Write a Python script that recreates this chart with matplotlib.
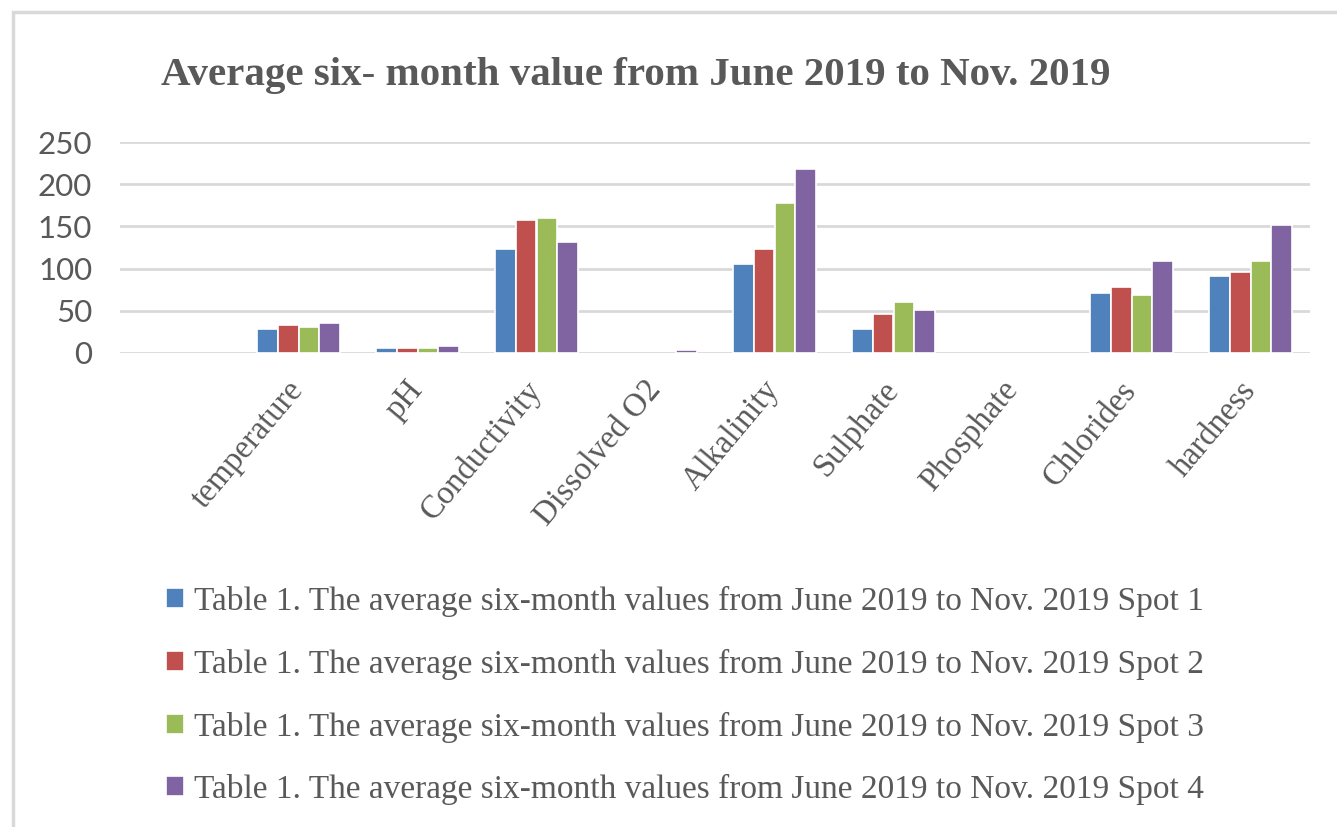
import matplotlib.pyplot as plt
import matplotlib.transforms as mtransforms
import numpy as np
from matplotlib.patches import Rectangle

# Datos (primera categoria vacia)
categories = ["", "temperature", "pH", "Conductivity", "Dissolved O2", "Alkalinity",
              "Sulphate", "Phosphate", "Chlorides", "hardness"]
spot1 = [0, 28, 5.5, 123.5, 0, 105, 28, 0, 71, 91.5]
spot2 = [0, 33, 5.5, 157, 0, 123.5, 46.5, 0, 78, 96]
spot3 = [0, 30.5, 5.5, 159.5, 0, 177.5, 60, 0, 69, 109.5]
spot4 = [0, 35, 8, 132, 3.5, 218, 50.5, 0, 109.5, 152]
series_names = ["Table 1. The average six-month values from June 2019 to Nov. 2019 Spot %d" % i
                for i in range(1, 5)]
colors = ["#4F81BD", "#C0504D", "#9BBB59", "#8064A2"]
yticks = [0, 50, 100, 150, 200, 250]

W, H = 1337, 827
fig = plt.figure(figsize=(W / 100, H / 100), dpi=100)

# marco gris del area del grafico
fig.patches.append(Rectangle((13 / W, -0.1), 1.2, 1 - 12 / H + 0.1, transform=fig.transFigure,
                             fill=False, edgecolor="#d9d9d9", linewidth=2.5))

ax = fig.add_axes([120 / W, 1 - 353 / H, (1310 - 120) / W, (353 - 142) / H])

x = np.arange(len(categories))
pitch = 0.175
handles = []
for i, vals in enumerate([spot1, spot2, spot3, spot4]):
    h = np.array(vals, dtype=float)
    h[h == 0] = np.nan  # no dibujar barras vacias
    b = ax.bar(x + (i - 1.5) * pitch, h, width=pitch, color=colors[i],
               edgecolor="white", linewidth=1.2, zorder=3)
    handles.append(b)

ax.set_xlim(-0.5, len(categories) - 0.5)
ax.set_ylim(0, 250)
ax.set_yticks(yticks)
ax.yaxis.grid(True, color="#d9d9d9", linewidth=2.0, zorder=0)
ax.set_axisbelow(True)
for s in ax.spines.values():
    s.set_visible(False)
ax.tick_params(axis="both", length=0)
ax.tick_params(axis="y", pad=20, labelcolor="#595959")
for lab in ax.get_yticklabels():
    lab.set_fontfamily("Lato")
    lab.set_fontsize(22.5)

ax.set_xticks(x)
ax.set_xticklabels(categories, rotation=50, ha="right", va="top",
                   rotation_mode="anchor", family="Liberation Serif",
                   fontsize=23.5, color="#595959")
ax.tick_params(axis="x", pad=16)
shift = mtransforms.ScaledTranslation(-12 / 100, 0, fig.dpi_scale_trans)
for lab in ax.get_xticklabels():
    lab.set_transform(lab.get_transform() + shift)

fig.text(636 / W, 1 - 75 / H, "Average six- month value from June 2019 to Nov. 2019",
         ha="center", va="center", family="Liberation Serif", fontweight="bold",
         fontsize=29.5, color="#595959")

fig.legend(handles, series_names, loc="upper left", bbox_to_anchor=(136 / W, 1 - 556 / H),
           frameon=False, prop={"family": "Liberation Serif", "size": 24},
           labelcolor="#595959", handlelength=0.55, handleheight=0.55,
           handletextpad=0.3, labelspacing=0.95)

fig.savefig("out.png", dpi=100)
